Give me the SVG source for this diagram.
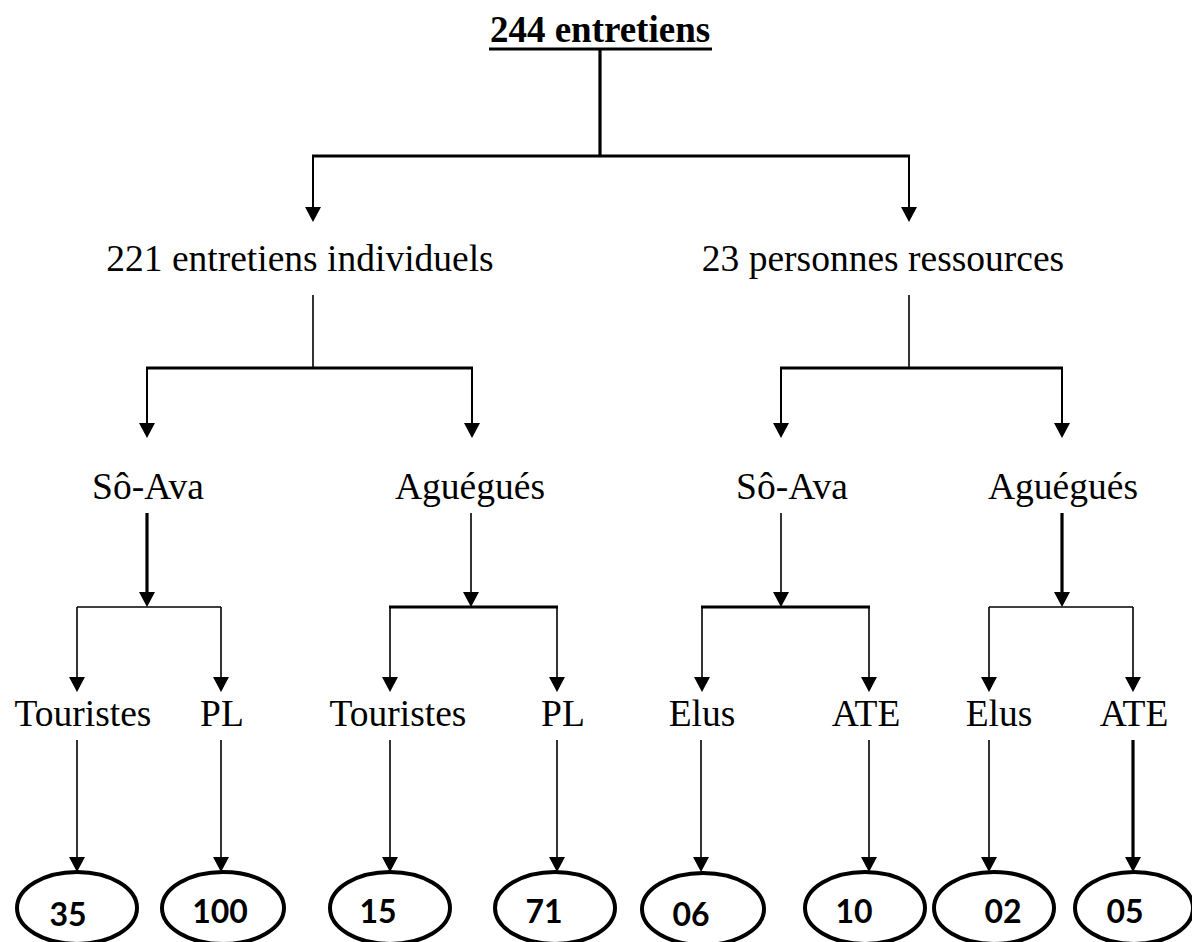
<svg xmlns="http://www.w3.org/2000/svg" width="1192" height="942" viewBox="0 0 1192 942">
<style>
.lbl{font-family:"Liberation Serif","Times New Roman",serif;font-size:37.5px;fill:#000;text-anchor:middle}
.ttl{font-family:"Liberation Serif","Times New Roman",serif;font-size:37px;font-weight:bold;fill:#000;text-anchor:middle}
.num{font-family:Lato,"Open Sans",sans-serif;font-size:32px;font-weight:bold;fill:#000;text-anchor:middle}
.ell{fill:#fff;stroke:#000;stroke-width:4}
.thin{stroke:#000;stroke-width:1.6;fill:none}
.med{stroke:#000;stroke-width:2;fill:none}
.thick{stroke:#000;stroke-width:3.2;fill:none}
.arr{marker-end:url(#ah)}
</style>
<defs>
<marker id="ah" viewBox="0 -8 15 16" refX="0" refY="0" markerWidth="15" markerHeight="16" markerUnits="userSpaceOnUse" orient="auto" overflow="visible">
<path d="M0,-8 L15,0 L0,8 Z" fill="#000"/>
</marker>
</defs>
<g id="connectors">
<line class="thick" x1="489" y1="49" x2="712" y2="49"/>
<line class="thick" x1="600" y1="49" x2="600" y2="156"/>
<line class="thick" x1="312" y1="156" x2="910" y2="156"/>
<line class="med arr" x1="313" y1="156" x2="313" y2="207"/>
<line class="med arr" x1="909" y1="156" x2="909" y2="207"/>
<line class="thin" x1="313" y1="295" x2="313" y2="368"/>
<line class="thick" x1="146" y1="368" x2="473" y2="368"/>
<line class="med arr" x1="147" y1="368" x2="147" y2="423"/>
<line class="med arr" x1="472" y1="368" x2="472" y2="423"/>
<line class="thin" x1="909" y1="295" x2="909" y2="368"/>
<line class="thick" x1="780" y1="368" x2="1063" y2="368"/>
<line class="med arr" x1="781" y1="368" x2="781" y2="423"/>
<line class="med arr" x1="1062" y1="368" x2="1062" y2="423"/>
<line class="thick arr" x1="147" y1="513" x2="147" y2="592"/>
<line class="thin" x1="77" y1="607" x2="221" y2="607"/>
<line class="thin arr" x1="77" y1="607" x2="77" y2="677"/>
<line class="thin arr" x1="221" y1="607" x2="221" y2="677"/>
<line class="thin arr" x1="471" y1="513" x2="471" y2="592"/>
<line class="thick" x1="389" y1="607" x2="558" y2="607"/>
<line class="thin arr" x1="390" y1="607" x2="390" y2="677"/>
<line class="thin arr" x1="557" y1="607" x2="557" y2="677"/>
<line class="thin arr" x1="781" y1="513" x2="781" y2="592"/>
<line class="thick" x1="701" y1="607" x2="870" y2="607"/>
<line class="thin arr" x1="702" y1="607" x2="702" y2="677"/>
<line class="thin arr" x1="869" y1="607" x2="869" y2="677"/>
<line class="thick arr" x1="1062" y1="513" x2="1062" y2="592"/>
<line class="thin" x1="989" y1="607" x2="1133" y2="607"/>
<line class="thin arr" x1="989" y1="607" x2="989" y2="677"/>
<line class="thin arr" x1="1133" y1="607" x2="1133" y2="677"/>
<line class="thin arr" x1="77" y1="740" x2="77" y2="857"/>
<line class="thin arr" x1="221" y1="740" x2="221" y2="857"/>
<line class="thin arr" x1="390" y1="740" x2="390" y2="857"/>
<line class="thin arr" x1="557" y1="740" x2="557" y2="857"/>
<line class="thin arr" x1="701" y1="740" x2="701" y2="857"/>
<line class="thin arr" x1="869" y1="740" x2="869" y2="857"/>
<line class="thin arr" x1="989" y1="740" x2="989" y2="857"/>
<line class="thick arr" x1="1133" y1="740" x2="1133" y2="857"/>
</g>
<g id="root"><text class="ttl" x="600" y="42">244 entretiens</text></g>
<g id="individuels"><text class="lbl" x="300" y="271">221 entretiens individuels</text></g>
<g id="ressources"><text class="lbl" x="883" y="271">23 personnes ressources</text></g>
<g id="soava-ind"><text class="lbl" x="148" y="499">Sô-Ava</text></g>
<g id="aguegues-ind"><text class="lbl" x="470" y="499">Aguégués</text></g>
<g id="soava-res"><text class="lbl" x="792" y="499">Sô-Ava</text></g>
<g id="aguegues-res"><text class="lbl" x="1063" y="499">Aguégués</text></g>
<g id="touristes1"><text class="lbl" x="83" y="726">Touristes</text></g>
<g id="pl1"><text class="lbl" x="222" y="726">PL</text></g>
<g id="touristes2"><text class="lbl" x="398" y="726">Touristes</text></g>
<g id="pl2"><text class="lbl" x="563" y="726">PL</text></g>
<g id="elus1"><text class="lbl" x="702" y="726">Elus</text></g>
<g id="ate1"><text class="lbl" x="866" y="726">ATE</text></g>
<g id="elus2"><text class="lbl" x="999" y="726">Elus</text></g>
<g id="ate2"><text class="lbl" x="1134" y="726">ATE</text></g>
<g id="n35"><ellipse class="ell" cx="77" cy="908" rx="60" ry="36"/><text class="num" x="68" y="926">35</text></g>
<g id="n100"><ellipse class="ell" cx="223" cy="908" rx="61" ry="36"/><text class="num" x="220" y="923">100</text></g>
<g id="n15"><ellipse class="ell" cx="390" cy="908" rx="60" ry="36"/><text class="num" x="378" y="923">15</text></g>
<g id="n71"><ellipse class="ell" cx="555" cy="908" rx="60" ry="36"/><text class="num" x="544" y="923">71</text></g>
<g id="n06"><ellipse class="ell" cx="703" cy="909" rx="61" ry="36"/><text class="num" x="691" y="926">06</text></g>
<g id="n10"><ellipse class="ell" cx="865" cy="908" rx="60" ry="36"/><text class="num" x="854" y="923">10</text></g>
<g id="n02"><ellipse class="ell" cx="994" cy="908" rx="60" ry="36"/><text class="num" x="1003" y="923">02</text></g>
<g id="n05"><ellipse class="ell" cx="1134" cy="908" rx="59" ry="36"/><text class="num" x="1125" y="923">05</text></g>
</svg>
